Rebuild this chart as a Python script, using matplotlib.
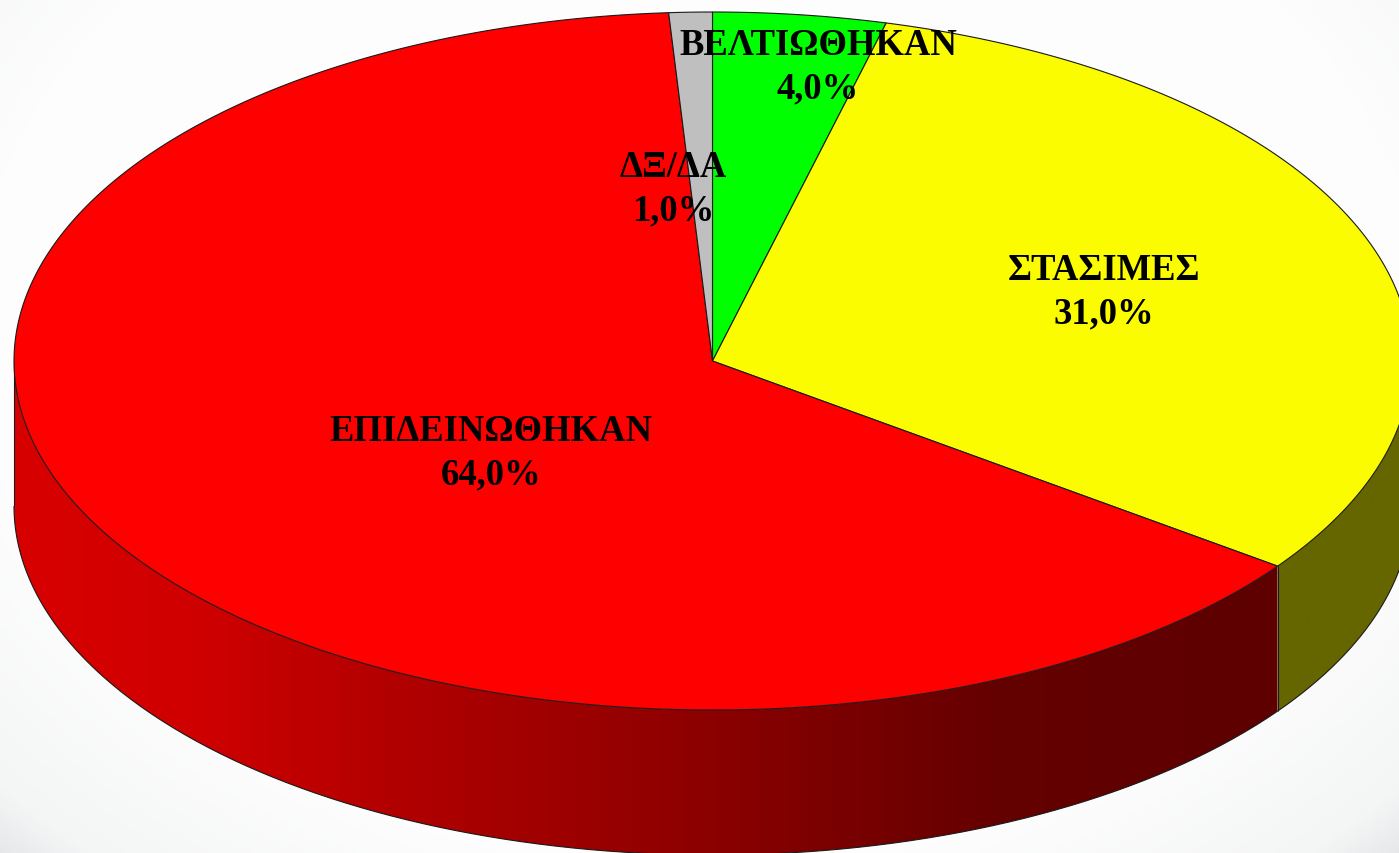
import numpy as np
import matplotlib
matplotlib.use('Agg')
import matplotlib.pyplot as plt
from matplotlib.colors import LinearSegmentedColormap
from matplotlib.patches import Polygon

# Parts du camembert, dans le sens horaire depuis le haut
categories = ['ΒΕΛΤΙΩΘΗΚΑΝ', 'ΣΤΑΣΙΜΕΣ', 'ΕΠΙΔΕΙΝΩΘΗΚΑΝ', 'ΔΞ/ΔΑ']
values = [4.0, 31.0, 64.0, 1.0]
pct_labels = ['4,0%', '31,0%', '64,0%', '1,0%']
colors = ['#00ff00', '#fcfc00', '#ff0000', '#bfbfbf']
label_pos = [(818, 67), (1104, 292), (491, 453), (673, 189)]

cx, cy = 712.5, 362
rx, ry = 698.5, 349
depth = 145

fig = plt.figure(figsize=(13.99, 8.54), dpi=100)
ax = fig.add_axes([0, 0, 1, 1])
ax.set_xlim(0, 1399)
ax.set_ylim(854, 0)
ax.axis('off')

# Fond : dégradé clair vers les coins
yy, xx = np.mgrid[0:854:214j, 0:1399:350j]
d = np.sqrt(((xx - 700) / 700) ** 2 + ((yy - 330) / 524) ** 2)
bg = LinearSegmentedColormap.from_list('bg', [(0, '#ffffff'), (0.72, '#fdfdfd'),
                                              (0.92, '#f4f5f5'), (1, '#e2e3e6')])
ax.imshow(np.clip(d / 1.45, 0, 1), extent=(0, 1399, 854, 0), cmap=bg, vmin=0, vmax=1,
          aspect='auto', zorder=0)


def px(theta):
    return cx + rx * np.sin(theta)


def py(theta):
    return cy - ry * np.cos(theta)


red_side = LinearSegmentedColormap.from_list(
    'side', [(0, '#d80000'), (0.14, '#d00000'), (0.2, '#c40000'), (0.31, '#b00000'),
             (0.55, '#8c0000'), (0.78, '#640000'), (1, '#5e0000')])
olive_side = LinearSegmentedColormap.from_list('olive', ['#666600', '#666600'])

bounds = np.cumsum([0] + values) / sum(values) * 2 * np.pi
edge = '#1a1a1a'

# Flanc du disque (partie visible : de 90 à 270 degrés)
for i in range(len(values)):
    a0 = max(bounds[i], np.pi / 2)
    a1 = min(bounds[i + 1], 3 * np.pi / 2)
    if a1 <= a0:
        continue
    t = np.linspace(a0, a1, 300)
    outline = np.c_[np.r_[px(t), px(t[::-1])], np.r_[py(t), py(t[::-1]) + depth]]
    cmap = red_side if colors[i] == '#ff0000' else olive_side
    grad = np.linspace(0, 1, 512)[None, :]
    im = ax.imshow(grad, extent=(px(a1), px(a0), 854, 0), cmap=cmap, aspect='auto', zorder=2)
    im.set_clip_path(Polygon(outline, closed=True, transform=ax.transData))
    ax.plot(px(t), py(t) + depth, color=edge, lw=0.8, zorder=3, solid_capstyle='butt')
    if a0 > np.pi / 2:
        ax.plot([px(a0), px(a0)], [py(a0), py(a0) + depth], color=edge, lw=0.8, zorder=3,
                solid_capstyle='butt')
    if a1 == 3 * np.pi / 2:
        ax.plot([px(a1), px(a1)], [py(a1), py(a1) + depth], color=edge, lw=0.8, zorder=3,
                solid_capstyle='butt')

ax.set_xlim(0, 1399)
ax.set_ylim(854, 0)

# Dessus du disque
for i in range(len(values)):
    t = np.linspace(bounds[i], bounds[i + 1], 300)
    ax.fill(np.r_[cx, px(t)], np.r_[cy, py(t)], facecolor=colors[i],
            edgecolor=edge, lw=0.8, zorder=4)

# Étiquettes
for name, pct, (x, y) in zip(categories, pct_labels, label_pos):
    ax.text(x, y, name + '\n' + pct, ha='center', va='center', ma='center',
            fontfamily='Liberation Serif', fontweight='bold', fontsize=26.4,
            linespacing=1.3, color='black', zorder=5)

plt.savefig('out.png', dpi=100)
